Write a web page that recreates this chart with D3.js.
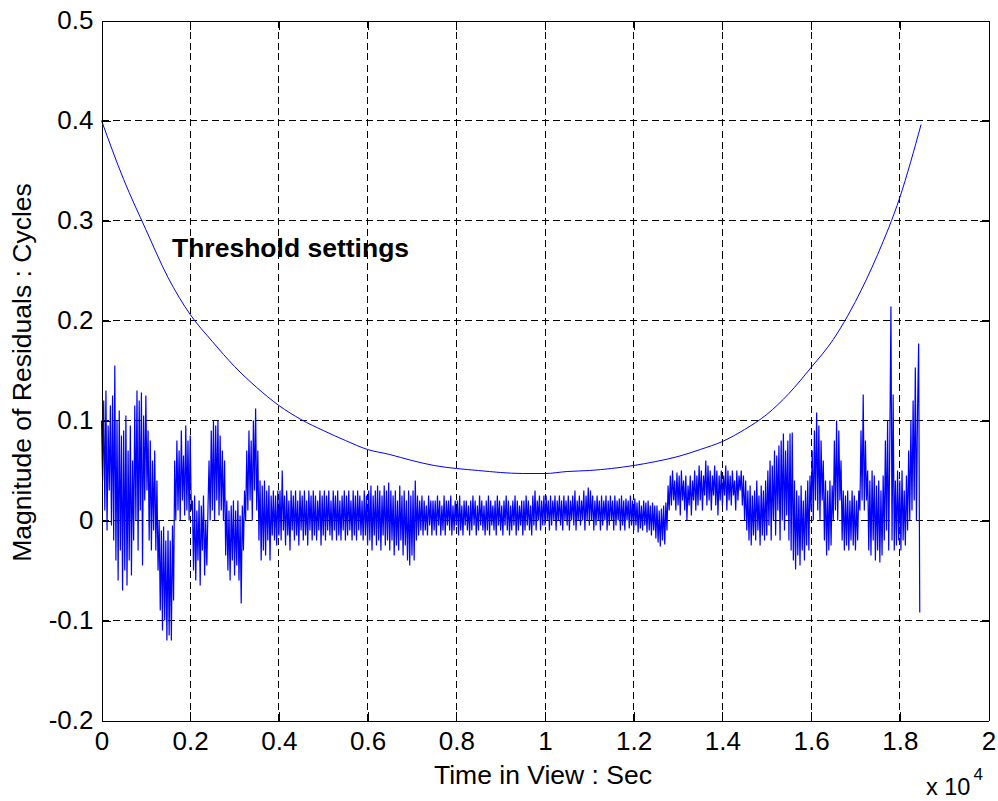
<!DOCTYPE html>
<html>
<head>
<meta charset="utf-8">
<script src="https://cdn.jsdelivr.net/npm/d3@7/dist/d3.min.js"></script>
<style>
  html, body { margin: 0; padding: 0; background: #ffffff; }
  svg { display: block; }
</style>
</head>
<body>
<svg id="chart" width="998" height="801"></svg>
<script>
// ---------------- DATA ----------------
const xTickValues = [0, 2000, 4000, 6000, 8000, 10000, 12000, 14000, 16000, 18000, 20000];
const xTickLabels = ["0", "0.2", "0.4", "0.6", "0.8", "1", "1.2", "1.4", "1.6", "1.8", "2"];
const yTickValues = [-0.2, -0.1, 0, 0.1, 0.2, 0.3, 0.4, 0.5];
const yTickLabels = ["-0.2", "-0.1", "0", "0.1", "0.2", "0.3", "0.4", "0.5"];

const xLabel = "Time in View : Sec";
const yLabel = "Magnitude of Residuals : Cycles";
const annotation = "Threshold settings";

// Threshold curve (seconds, cycles)
const thresholdTime = [0, 500, 1000, 1500, 2000, 2500, 3000, 3500, 4000, 4500, 5000, 5500,
  6000, 6500, 7000, 7500, 8000, 8500, 9000, 9500, 10000, 10500, 11000, 11500, 12000,
  12500, 13000, 13500, 14000, 14500, 15000, 15500, 16000, 16500, 17000, 17500, 18000, 18480];
const thresholdValue = [0.400, 0.341, 0.291, 0.243, 0.206, 0.179, 0.154, 0.133, 0.115, 0.101,
  0.090, 0.080, 0.071, 0.066, 0.060, 0.055, 0.052, 0.050, 0.048, 0.047, 0.047, 0.049, 0.050,
  0.052, 0.055, 0.059, 0.064, 0.071, 0.079, 0.091, 0.106, 0.127, 0.153, 0.181, 0.219, 0.266,
  0.323, 0.396];

// Residuals (cycles), sampled every 25 s starting at t = 0
const residualStep = 25;
const residualValue = [
  0.100, 0.040, 0.120, 0.010, 0.130, -0.010, 0.095, 0.030, 0.115, -0.005, 0.125, -0.020, 0.155, -0.040, 0.100, -0.060, 0.110, -0.030, 0.085, -0.070,
  0.090, -0.050, 0.105, -0.065, 0.070, -0.040, 0.095, -0.055, 0.060, -0.020, 0.115, 0.000, 0.130, -0.030, 0.120, 0.010, 0.128, -0.045, 0.105, 0.020,
  0.125, 0.030, 0.090, -0.020, 0.080, -0.030, 0.060, -0.010, 0.070, -0.030, 0.040, -0.050, 0.000, -0.090, -0.010, -0.110, -0.006, -0.100, -0.020, -0.120,
  -0.010, -0.115, -0.020, -0.120, -0.005, -0.080, 0.060, 0.000, 0.080, 0.010, 0.070, 0.000, 0.090, 0.020, 0.065, 0.005, 0.095, 0.010, 0.080, 0.000,
  0.085, 0.010, 0.020, -0.050, 0.025, -0.060, 0.010, -0.040, 0.020, -0.065, 0.015, -0.030, 0.025, -0.055, 0.000, -0.045, 0.010, 0.060, 0.000, 0.090,
  0.010, 0.100, 0.000, 0.095, 0.020, 0.100, 0.005, 0.085, 0.010, 0.070, 0.000, 0.060, -0.035, 0.020, -0.050, 0.010, -0.060, 0.015, -0.040, 0.020,
  -0.055, 0.010, -0.045, 0.020, -0.060, 0.005, -0.083, 0.015, -0.030, 0.030, 0.000, 0.070, 0.010, 0.090, 0.020, 0.080, 0.000, 0.100, 0.030, 0.112,
  0.010, 0.070, -0.020, 0.040, -0.040, 0.035, -0.030, 0.040, -0.035, 0.030, -0.020, 0.035, -0.040, 0.025, -0.015, 0.030, -0.020, 0.025, -0.025, 0.030,
  -0.015, 0.030, -0.020, 0.050, -0.010, 0.025, -0.025, 0.030, -0.015, 0.020, -0.030, 0.030, -0.010, 0.025, -0.020, 0.030, -0.015, 0.020, -0.025, 0.030,
  -0.010, 0.025, -0.020, 0.030, -0.015, 0.020, -0.025, 0.030, -0.010, 0.025, -0.020, 0.030, -0.015, 0.025, -0.020, 0.020, -0.010, 0.030, -0.025, 0.025,
  -0.015, 0.030, -0.020, 0.025, -0.010, 0.030, -0.015, 0.020, -0.020, 0.030, -0.010, 0.025, -0.020, 0.030, -0.015, 0.020, -0.020, 0.025, -0.010, 0.030,
  -0.020, 0.025, -0.015, 0.030, -0.010, 0.020, -0.020, 0.030, -0.015, 0.025, -0.020, 0.030, -0.010, 0.025, -0.015, 0.020, -0.020, 0.030, -0.015, 0.025,
  -0.025, 0.030, -0.020, 0.035, -0.030, 0.025, -0.015, 0.030, -0.025, 0.035, -0.020, 0.030, -0.030, 0.025, -0.015, 0.035, -0.025, 0.030, -0.020, 0.038,
  -0.030, 0.030, -0.020, 0.025, -0.035, 0.030, -0.025, 0.020, -0.030, 0.035, -0.020, 0.025, -0.035, 0.030, -0.025, 0.020, -0.040, 0.030, -0.045, 0.025,
  -0.035, 0.030, -0.040, 0.040, -0.020, 0.025, -0.015, 0.020, -0.010, 0.025, -0.015, 0.020, -0.010, 0.015, -0.015, 0.025, -0.005, 0.020, -0.015, 0.020,
  -0.010, 0.020, -0.015, 0.025, -0.005, 0.020, -0.015, 0.015, -0.010, 0.025, -0.015, 0.020, -0.005, 0.020, -0.010, 0.025, -0.015, 0.015, -0.010, 0.020,
  -0.005, 0.020, -0.015, 0.025, -0.010, 0.015, -0.015, 0.020, -0.005, 0.020, -0.010, 0.015, -0.015, 0.020, -0.010, 0.025, -0.005, 0.020, -0.015, 0.015,
  -0.010, 0.025, -0.005, 0.020, -0.010, 0.015, -0.015, 0.020, -0.010, 0.025, -0.015, 0.020, -0.005, 0.015, -0.010, 0.020, -0.015, 0.025, -0.005, 0.020,
  -0.010, 0.015, -0.015, 0.020, -0.005, 0.025, -0.010, 0.020, -0.015, 0.015, -0.010, 0.020, -0.005, 0.025, -0.015, 0.020, -0.010, 0.015, -0.005, 0.020,
  -0.015, 0.020, -0.010, 0.025, -0.005, 0.020, -0.010, 0.015, -0.015, 0.025, -0.005, 0.030, -0.010, 0.020, 0.000, 0.025, -0.010, 0.020, -0.005, 0.025,
  -0.005, 0.025, 0.000, 0.020, -0.010, 0.025, -0.005, 0.020, 0.000, 0.025, -0.010, 0.020, 0.000, 0.025, -0.005, 0.020, -0.010, 0.025, 0.000, 0.020,
  -0.005, 0.025, -0.010, 0.020, 0.000, 0.025, -0.005, 0.030, -0.010, 0.020, 0.000, 0.025, -0.005, 0.020, 0.000, 0.030, -0.010, 0.025, 0.000, 0.033,
  -0.005, 0.030, 0.000, 0.025, -0.010, 0.020, -0.005, 0.025, 0.000, 0.020, -0.010, 0.025, -0.005, 0.020, 0.000, 0.025, -0.010, 0.020, -0.005, 0.025,
  0.000, 0.020, -0.010, 0.025, -0.005, 0.020, 0.000, 0.022, -0.010, 0.025, -0.005, 0.020, -0.010, 0.022, 0.000, 0.020, -0.008, 0.025, -0.005, 0.020,
  -0.010, 0.022, -0.005, 0.018, -0.012, 0.020, -0.008, 0.015, -0.010, 0.020, -0.005, 0.018, -0.012, 0.020, -0.010, 0.015, -0.015, 0.018, -0.010, 0.015,
  -0.018, 0.015, -0.022, 0.010, -0.026, 0.012, -0.020, 0.015, -0.024, 0.018, -0.010, 0.035, 0.010, 0.045, 0.015, 0.050, 0.020, 0.040, 0.010, 0.048,
  0.015, 0.045, 0.005, 0.050, 0.020, 0.040, 0.010, 0.045, 0.000, 0.035, 0.015, 0.045, 0.005, 0.040, 0.020, 0.050, 0.010, 0.045, 0.015, 0.055,
  0.020, 0.050, 0.010, 0.045, 0.025, 0.060, 0.015, 0.055, 0.020, 0.050, 0.010, 0.045, 0.025, 0.055, 0.015, 0.050, 0.005, 0.045, 0.020, 0.050,
  0.015, 0.045, 0.025, 0.055, 0.010, 0.050, 0.020, 0.045, 0.015, 0.050, 0.025, 0.040, 0.010, 0.050, 0.020, 0.045, 0.030, 0.050, 0.015, 0.045,
  0.000, 0.040, -0.010, 0.030, -0.020, 0.035, -0.025, 0.025, -0.015, 0.030, -0.020, 0.040, -0.010, 0.025, -0.025, 0.035, -0.015, 0.030, -0.020, 0.040,
  -0.015, 0.050, -0.005, 0.060, -0.020, 0.055, 0.000, 0.070, -0.015, 0.065, 0.010, 0.075, -0.020, 0.080, 0.000, 0.087, -0.010, 0.070, 0.005, 0.080,
  -0.020, 0.087, -0.030, 0.088, -0.040, 0.040, -0.049, 0.030, -0.035, 0.025, -0.045, 0.035, -0.030, 0.020, -0.040, 0.030, -0.025, 0.040, -0.030, 0.045,
  0.010, 0.070, 0.000, 0.090, 0.020, 0.108, 0.010, 0.095, 0.000, 0.080, 0.020, 0.060, -0.020, 0.040, -0.035, 0.030, -0.030, 0.040, -0.025, 0.035,
  0.000, 0.080, 0.010, 0.100, 0.000, 0.090, 0.020, 0.060, -0.020, 0.030, -0.030, 0.025, -0.025, 0.030, -0.030, 0.020, -0.020, 0.030, -0.025, 0.025,
  -0.030, 0.020, -0.020, 0.030, 0.010, 0.090, 0.020, 0.126, 0.010, 0.080, 0.020, 0.050, -0.030, 0.040, -0.035, 0.050, -0.020, 0.045, -0.040, 0.035,
  -0.030, 0.040, -0.042, 0.030, -0.035, 0.045, -0.020, 0.080, -0.010, 0.100, -0.030, 0.080, 0.214, -0.020, 0.126, -0.030, 0.040, -0.025, 0.050, -0.020,
  0.040, -0.030, 0.050, -0.020, 0.030, -0.025, 0.045, -0.010, 0.070, 0.000, 0.100, 0.010, 0.120, 0.020, 0.153, 0.000, 0.110, 0.177, -0.092
];

// ---------------- LAYOUT ----------------
const FONT = "'Liberation Sans', Arial, Helvetica, sans-serif";
const plot = { left: 101.5, right: 988.5, top: 20.5, bottom: 720.5 };

const svg = d3.select("#chart");
svg.append("rect").attr("width", 998).attr("height", 801).attr("fill", "#ffffff");

const x = d3.scaleLinear().domain([0, 20000]).range([plot.left, plot.right]);
const y = d3.scaleLinear().domain([-0.2, 0.5]).range([plot.bottom, plot.top]);

// Grid
const grid = svg.append("g").attr("stroke", "#000").attr("stroke-width", 1)
  .attr("stroke-dasharray", "7,4").attr("shape-rendering", "crispEdges");
grid.selectAll("line.gx").data(xTickValues.slice(1, -1)).join("line")
  .attr("x1", d => x(d)).attr("x2", d => x(d))
  .attr("y1", plot.top).attr("y2", plot.bottom);
grid.selectAll("line.gy").data(yTickValues.slice(1, -1)).join("line")
  .attr("x1", plot.left).attr("x2", plot.right)
  .attr("y1", d => y(d)).attr("y2", d => y(d));

// Data lines
const residualData = residualValue.map((v, i) => ({ t: i * residualStep, v }));
const thresholdData = thresholdTime.map((t, i) => ({ t, v: thresholdValue[i] }));

svg.append("path").datum(residualData)
  .attr("fill", "none").attr("stroke", "#0000ff").attr("stroke-width", 1.2)
  .attr("stroke-linejoin", "miter").attr("stroke-miterlimit", 2)
  .attr("d", d3.line().x(d => x(d.t)).y(d => y(d.v)));

svg.append("path").datum(thresholdData)
  .attr("fill", "none").attr("stroke", "#0000ff").attr("stroke-width", 1)
  .attr("d", d3.line().curve(d3.curveMonotoneX).x(d => x(d.t)).y(d => y(d.v)));

// Axes
function styleAxis(g) {
  g.attr("font-family", FONT).attr("font-size", 26);
  g.selectAll("path.domain").attr("stroke", "#000").attr("stroke-width", 1).attr("shape-rendering", "crispEdges");
  g.selectAll(".tick line").attr("stroke", "#000").attr("shape-rendering", "crispEdges");
  g.selectAll(".tick text").attr("fill", "#000");
}

svg.append("g").attr("transform", `translate(0,${plot.bottom})`)
  .call(d3.axisBottom(x).tickValues(xTickValues).tickFormat((d, i) => xTickLabels[i])
    .tickSizeInner(-9).tickSizeOuter(0).tickPadding(11))
  .call(styleAxis);

svg.append("g").attr("transform", `translate(${plot.left},0)`)
  .call(d3.axisLeft(y).tickValues(yTickValues).tickFormat((d, i) => yTickLabels[i])
    .tickSizeInner(-9).tickSizeOuter(0).tickPadding(8))
  .call(styleAxis);

svg.append("g").attr("transform", `translate(0,${plot.top})`)
  .call(d3.axisTop(x).tickValues(xTickValues).tickFormat("").tickSizeInner(-9).tickSizeOuter(0))
  .call(styleAxis);

svg.append("g").attr("transform", `translate(${plot.right},0)`)
  .call(d3.axisRight(y).tickValues(yTickValues).tickFormat("").tickSizeInner(-9).tickSizeOuter(0))
  .call(styleAxis);

// Labels
svg.append("text").attr("x", 543).attr("y", 784)
  .attr("text-anchor", "middle").attr("font-family", FONT).attr("font-size", 26.5)
  .text(xLabel);

svg.append("text").attr("transform", `translate(31,${(plot.top + plot.bottom) / 2 + 2}) rotate(-90)`)
  .attr("text-anchor", "middle").attr("font-family", FONT).attr("font-size", 26.5)
  .text(yLabel);

const mult = svg.append("text").attr("x", 926).attr("y", 795)
  .attr("font-family", FONT).attr("font-size", 23.5);
mult.append("tspan").text("x 10");
mult.append("tspan").attr("font-size", 17).attr("dy", -15).attr("dx", 3).text("4");

svg.append("text").attr("x", 172).attr("y", 257)
  .attr("font-family", FONT).attr("font-size", 26.5).attr("font-weight", "bold")
  .text(annotation);
</script>
</body>
</html>
